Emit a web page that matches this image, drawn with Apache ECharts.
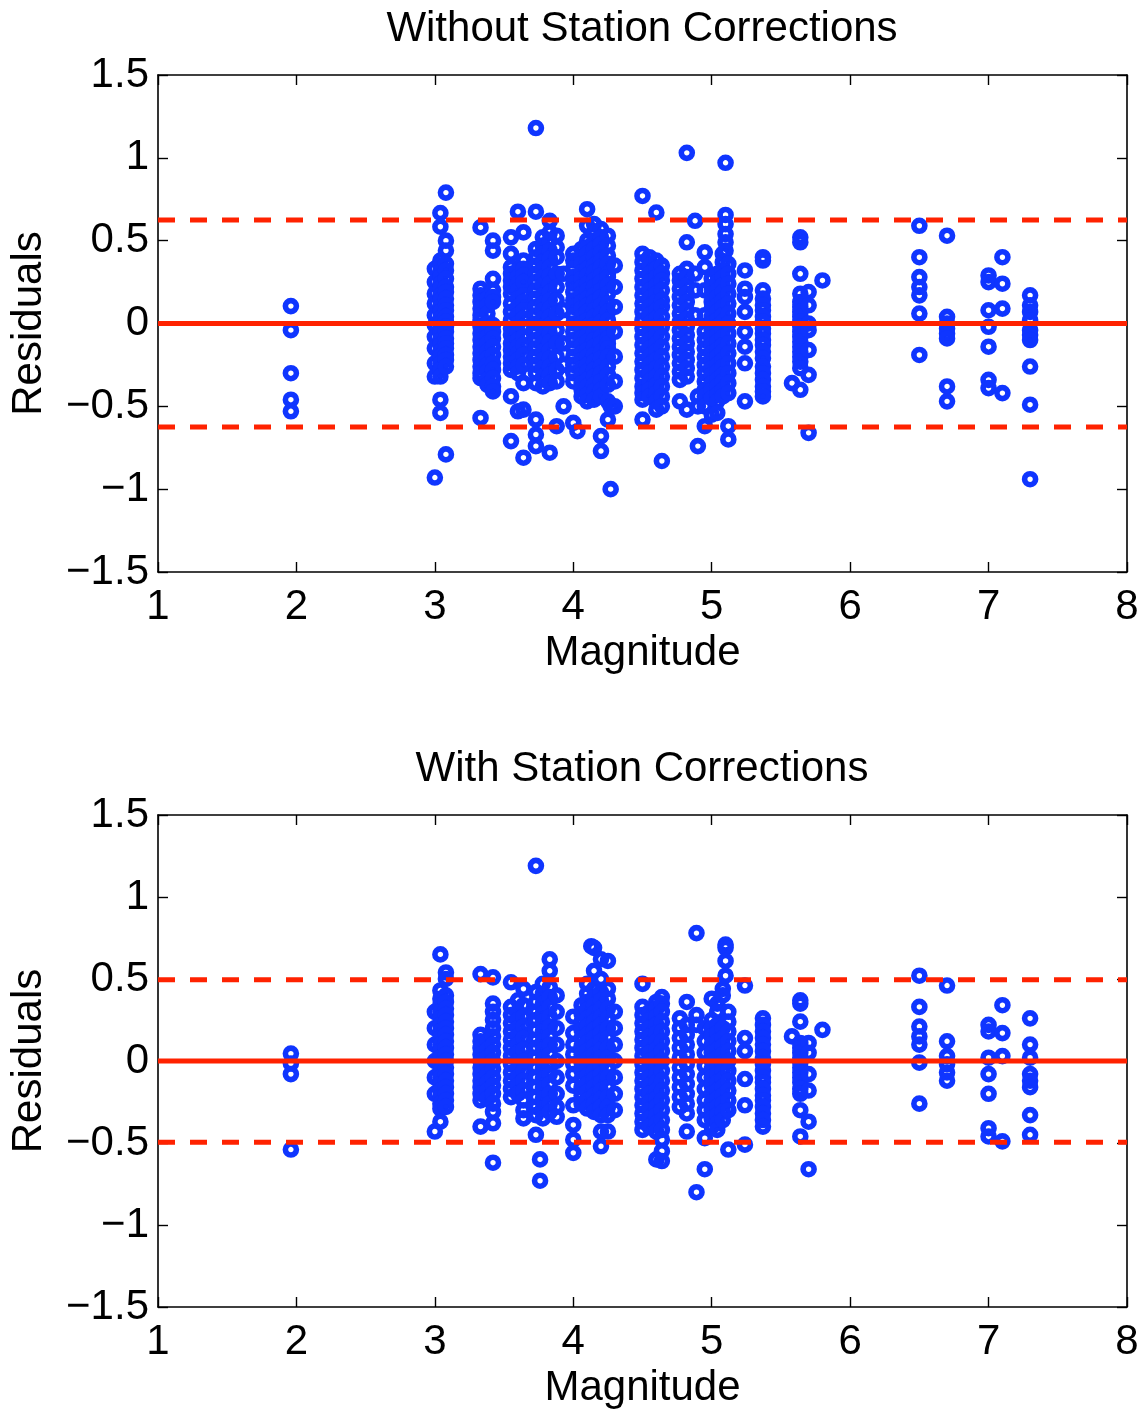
<!DOCTYPE html>
<html><head><meta charset="utf-8">
<script src="https://cdn.jsdelivr.net/npm/echarts@6/dist/echarts.min.js"></script>
<style>html,body{margin:0;padding:0;background:#fff}#c{width:1148px;height:1410px}</style>
</head><body><div id="c"></div>
<script>
// ---- Data (magnitude column, residuals) ----
const titles = ['Without Station Corrections', 'With Station Corrections'];
const xTicks = [1, 8, 1];      // min, max, interval
const yTicks = [-1.5, 1.5, 0.5];
const topBand = 0.624;   // dashed lines +/- (without corrections)
const botBand = 0.495;   // dashed lines +/- (with corrections)

const topCols = [
  [1.96, [0.105, -0.04, -0.30, -0.46, -0.53]],
  [3.0,  [0.33, 0.25, 0.18, 0.12, 0.05, -0.01, -0.08, -0.15, -0.24, -0.32, -0.93]],
  [3.04, [0.667, 0.584, 0.38, 0.35, 0.31, 0.28, 0.24, 0.21, 0.17, 0.14, 0.1, 0.07, 0.03, 0.0, -0.03, -0.06, -0.1, -0.13, -0.17, -0.2, -0.24, -0.28, -0.32, -0.46, -0.54]],
  [3.08, [0.79, 0.50, 0.44, 0.36, 0.32, 0.27, 0.22, 0.19, 0.15, 0.11, 0.08, 0.04, 0.01, -0.02, -0.05, -0.09, -0.12, -0.15, -0.19, -0.22, -0.26, -0.79]],
  [3.33, [0.58, 0.21, 0.17, 0.13, 0.09, 0.05, 0.02, -0.02, -0.06, -0.1, -0.14, -0.18, -0.22, -0.26, -0.3, -0.33, -0.57]],
  [3.38, [0.15, 0.11, 0.06, 0.0, -0.04, -0.08, -0.12, -0.17, -0.21, -0.25, -0.29, -0.34, -0.37]],
  [3.42, [0.5, 0.44, 0.27, 0.2, 0.16, 0.13, -0.01, -0.05, -0.09, -0.14, -0.19, -0.24, -0.28, -0.33, -0.38, -0.41]],
  [3.55, [0.52, 0.42, 0.34, 0.3, 0.26, 0.22, 0.18, 0.12, 0.07, 0.02, -0.03, -0.07, -0.12, -0.16, -0.2, -0.24, -0.28, -0.44, -0.71]],
  [3.6,  [0.675, 0.32, 0.28, 0.24, 0.2, 0.15, 0.1, 0.05, 0.0, -0.05, -0.1, -0.14, -0.18, -0.22, -0.26, -0.3, -0.53]],
  [3.64, [0.55, 0.38, 0.33, 0.29, 0.25, 0.17, 0.13, 0.08, 0.03, -0.02, -0.08, -0.13, -0.19, -0.25, -0.36, -0.52, -0.81]],
  [3.73, [1.18, 0.675, 0.45, 0.4, 0.35, 0.3, 0.25, 0.2, 0.15, 0.1, 0.05, 0.0, -0.05, -0.1, -0.15, -0.2, -0.25, -0.3, -0.36, -0.58, -0.67, -0.74]],
  [3.78, [0.52, 0.47, 0.42, 0.37, 0.33, 0.28, 0.23, 0.17, 0.12, 0.08, 0.03, -0.02, -0.07, -0.12, -0.17, -0.22, -0.27, -0.32, -0.38]],
  [3.83, [0.62, 0.55, 0.5, 0.44, 0.39, 0.34, 0.29, 0.24, 0.19, 0.14, 0.09, 0.04, -0.01, -0.06, -0.11, -0.16, -0.21, -0.26, -0.31, -0.36, -0.78]],
  [3.88, [0.53, 0.46, 0.4, 0.3, 0.22, 0.14, 0.06, -0.04, -0.12, -0.2, -0.28, -0.35, -0.62]],
  [3.93, [0.3, 0.08, -0.12, -0.25, -0.5]],
  [4.0,  [0.42, 0.38, 0.33, 0.28, 0.24, 0.19, 0.14, 0.1, 0.05, 0.0, -0.05, -0.1, -0.15, -0.2, -0.25, -0.3, -0.35, -0.6]],
  [4.03, [-0.65]],
  [4.06, [0.45, 0.4, 0.36, 0.31, 0.27, 0.22, 0.18, 0.13, 0.09, 0.04, 0.0, -0.04, -0.09, -0.13, -0.18, -0.22, -0.27, -0.31, -0.36, -0.4, -0.44]],
  [4.1,  [0.69, 0.59, 0.5, 0.46, 0.42, 0.37, 0.33, 0.29, 0.24, 0.2, 0.15, 0.11, 0.07, 0.02, -0.02, -0.07, -0.11, -0.16, -0.2, -0.25, -0.29, -0.34, -0.38, -0.43, -0.47]],
  [4.15, [0.6, 0.55, 0.5, 0.45, 0.4, 0.35, 0.31, 0.26, 0.22, 0.17, 0.13, 0.08, 0.04, -0.01, -0.05, -0.1, -0.14, -0.19, -0.23, -0.28, -0.32, -0.37, -0.41, -0.46]],
  [4.2,  [0.57, 0.52, 0.48, 0.43, 0.38, 0.34, 0.29, 0.25, 0.2, 0.16, 0.11, 0.06, 0.01, -0.03, -0.08, -0.12, -0.17, -0.21, -0.26, -0.3, -0.35, -0.4, -0.44, -0.68, -0.77]],
  [4.25, [0.53, 0.47, 0.41, 0.36, 0.3, 0.28, 0.23, 0.18, 0.12, 0.07, 0.02, -0.04, -0.09, -0.12, -0.15, -0.2, -0.26, -0.31, -0.37, -0.47, -0.58]],
  [4.27, [-1.0, -0.5]],
  [4.3,  [0.35, 0.22, 0.1, -0.05, -0.2, -0.35, -0.5]],
  [4.5,  [0.77, 0.42, 0.37, 0.32, 0.27, 0.22, 0.17, 0.12, 0.07, 0.02, -0.03, -0.08, -0.13, -0.18, -0.23, -0.28, -0.33, -0.38, -0.42, -0.46, -0.58]],
  [4.55, [0.4, 0.35, 0.3, 0.25, 0.2, 0.15, 0.1, 0.05, 0.0, -0.05, -0.1, -0.15, -0.2, -0.25, -0.3, -0.35, -0.4, -0.44]],
  [4.6,  [0.67, 0.38, 0.33, 0.28, 0.23, 0.18, 0.13, 0.08, 0.03, -0.02, -0.07, -0.12, -0.17, -0.22, -0.27, -0.32, -0.37, -0.42, -0.47, -0.52]],
  [4.64, [0.35, 0.3, 0.26, 0.2, 0.14, 0.1, 0.04, -0.02, -0.08, -0.14, -0.2, -0.26, -0.32, -0.38, -0.44, -0.5, -0.83]],
  [4.77, [0.3, 0.26, 0.21, 0.16, 0.11, 0.06, 0.01, -0.04, -0.09, -0.14, -0.19, -0.24, -0.29, -0.34, -0.47]],
  [4.82, [1.03, 0.49, 0.33, 0.28, 0.23, 0.18, 0.13, 0.08, 0.03, -0.02, -0.07, -0.12, -0.17, -0.22, -0.27, -0.32, -0.52]],
  [4.88, [0.62, 0.3, 0.2, 0.05]],
  [4.9,  [-0.44, -0.5, -0.74]],
  [4.95, [0.43, 0.34, 0.2, 0.05, -0.05, -0.1, -0.15, -0.2, -0.25, -0.3, -0.35, -0.4, -0.44, -0.5, -0.62]],
  [5.0,  [0.27, 0.22, 0.18, 0.13, 0.09, 0.04, 0.0, -0.04, -0.09, -0.13, -0.18, -0.22, -0.27, -0.31, -0.36, -0.4, -0.45, -0.55]],
  [5.04, [0.3, 0.25, 0.2, 0.16, 0.11, 0.07, 0.02, -0.02, -0.07, -0.11, -0.16, -0.2, -0.25, -0.29, -0.34, -0.38, -0.43, -0.47, -0.54]],
  [5.08, [0.42, 0.37, 0.32, 0.28, 0.23, 0.19, 0.14, 0.1, 0.05, 0.01, -0.04, -0.08, -0.13, -0.17, -0.22, -0.26, -0.31, -0.35, -0.4, -0.44]],
  [5.1,  [0.97, 0.655, 0.6, 0.54, 0.49, 0.44]],
  [5.12, [0.36, 0.3, 0.24, 0.18, 0.12, 0.06, 0.0, -0.06, -0.12, -0.18, -0.24, -0.3, -0.36, -0.42, -0.62, -0.7]],
  [5.24, [0.32, 0.21, 0.16, 0.07, -0.05, -0.14, -0.24, -0.47]],
  [5.37, [0.40, 0.38, 0.2, 0.15, 0.11, 0.08, 0.04, 0.01, -0.03, -0.06, -0.1, -0.13, -0.17, -0.21, -0.26, -0.3, -0.34, -0.38, -0.41, -0.44]],
  [5.58, [-0.36]],
  [5.64, [0.52, 0.49, 0.30, 0.18, 0.13, 0.1, 0.07, 0.04, 0.01, -0.02, -0.05, -0.08, -0.11, -0.14, -0.17, -0.2, -0.23, -0.27, -0.4]],
  [5.7,  [0.19, 0.11, 0.0, -0.04, -0.16, -0.31, -0.66]],
  [5.8,  [0.26]],
  [6.5,  [0.59, 0.40, 0.28, 0.22, 0.17, 0.06, -0.19]],
  [6.7,  [0.53, 0.04, 0.0, -0.03, -0.06, -0.09, -0.38, -0.47]],
  [7.0,  [0.29, 0.25, 0.08, -0.02, -0.14, -0.34, -0.39]],
  [7.1,  [0.40, 0.24, 0.09, -0.42]],
  [7.3,  [0.17, 0.11, 0.07, 0.02, -0.04, -0.07, -0.1, -0.26, -0.49, -0.94]]
];

const botCols = [
  [1.96, [0.045, -0.015, -0.08, -0.54]],
  [3.0,  [0.3, 0.2, 0.1, 0.0, -0.1, -0.2, -0.43]],
  [3.04, [0.65, 0.43, 0.38, 0.34, 0.3, 0.26, 0.22, 0.18, 0.14, 0.1, 0.06, 0.02, -0.02, -0.06, -0.1, -0.14, -0.18, -0.22, -0.26, -0.29, -0.37]],
  [3.08, [0.54, 0.5, 0.4, 0.36, 0.32, 0.28, 0.24, 0.2, 0.16, 0.12, 0.08, 0.04, 0.0, -0.04, -0.08, -0.12, -0.16, -0.2, -0.24, -0.28]],
  [3.33, [0.53, 0.16, 0.12, 0.08, 0.04, 0.0, -0.04, -0.08, -0.12, -0.16, -0.2, -0.24, -0.4]],
  [3.38, [0.12, 0.07, 0.02, -0.03, -0.08, -0.13, -0.18, -0.23]],
  [3.42, [0.51, 0.35, 0.3, 0.25, 0.2, 0.15, 0.1, 0.05, 0.0, -0.05, -0.1, -0.15, -0.2, -0.26, -0.31, -0.38, -0.62]],
  [3.55, [0.48, 0.33, 0.28, 0.23, 0.18, 0.13, 0.08, 0.03, -0.02, -0.07, -0.12, -0.17, -0.22]],
  [3.6,  [0.37, 0.3, 0.25, 0.2, 0.15, 0.1, 0.05, 0.0, -0.05, -0.1, -0.15, -0.2]],
  [3.64, [0.44, 0.34, 0.27, 0.21, 0.14, 0.07, 0.0, -0.06, -0.12, -0.18, -0.24, -0.3, -0.35]],
  [3.73, [1.19, 0.42, 0.36, 0.3, 0.25, 0.19, 0.13, 0.08, 0.02, -0.04, -0.1, -0.16, -0.22, -0.28, -0.33, -0.45]],
  [3.76, [-0.6, -0.73]],
  [3.78, [0.47, 0.41, 0.35, 0.29, 0.24, 0.18, 0.12, 0.07, 0.01, -0.05, -0.11, -0.17, -0.23, -0.29, -0.35]],
  [3.83, [0.62, 0.55, 0.45, 0.39, 0.33, 0.27, 0.21, 0.15, 0.1, 0.04, -0.02, -0.08, -0.14, -0.2, -0.26, -0.31]],
  [3.88, [0.4, 0.3, 0.2, 0.1, 0.0, -0.1, -0.2, -0.28, -0.34]],
  [4.0,  [0.27, 0.17, 0.1, 0.04, -0.02, -0.08, -0.15, -0.27, -0.39, -0.48, -0.56]],
  [4.06, [0.34, 0.29, 0.24, 0.19, 0.14, 0.09, 0.04, -0.01, -0.06, -0.11, -0.16, -0.21, -0.26]],
  [4.1,  [0.47, 0.41, 0.36, 0.31, 0.26, 0.21, 0.16, 0.11, 0.06, 0.01, -0.04, -0.09, -0.14, -0.19, -0.24, -0.29]],
  [4.13, [0.70]],
  [4.15, [0.69, 0.55, 0.44, 0.39, 0.34, 0.29, 0.24, 0.19, 0.14, 0.09, 0.04, -0.01, -0.06, -0.11, -0.16, -0.21, -0.26, -0.31]],
  [4.2,  [0.62, 0.5, 0.42, 0.37, 0.32, 0.27, 0.22, 0.17, 0.12, 0.07, 0.02, -0.03, -0.08, -0.13, -0.18, -0.23, -0.28, -0.33, -0.43, -0.52]],
  [4.25, [0.61, 0.44, 0.38, 0.32, 0.26, 0.2, 0.14, 0.08, 0.02, -0.04, -0.1, -0.16, -0.22, -0.28, -0.33, -0.43]],
  [4.3,  [0.3, 0.2, 0.1, 0.0, -0.1, -0.2, -0.3]],
  [4.5,  [0.47, 0.33, 0.28, 0.23, 0.18, 0.13, 0.08, 0.03, -0.02, -0.07, -0.12, -0.17, -0.22, -0.27, -0.32, -0.37, -0.42]],
  [4.55, [0.3, 0.25, 0.2, 0.15, 0.1, 0.05, 0.0, -0.05, -0.1, -0.15, -0.2, -0.25, -0.3, -0.35, -0.4]],
  [4.6,  [0.36, 0.32, 0.27, 0.22, 0.17, 0.12, 0.07, 0.02, -0.03, -0.08, -0.13, -0.18, -0.23, -0.28, -0.33, -0.38, -0.43, -0.6]],
  [4.64, [0.39, 0.35, 0.3, 0.24, 0.18, 0.12, 0.06, 0.0, -0.06, -0.12, -0.18, -0.24, -0.3, -0.36, -0.42, -0.48, -0.55, -0.61]],
  [4.77, [0.26, 0.2, 0.14, 0.08, 0.02, -0.04, -0.1, -0.16, -0.22, -0.28]],
  [4.82, [0.36, 0.22, 0.16, 0.1, 0.04, -0.02, -0.08, -0.14, -0.2, -0.26, -0.32, -0.43]],
  [4.89, [0.78, 0.28, 0.22, -0.8]],
  [4.95, [0.2, 0.12, 0.05, -0.03, -0.1, -0.17, -0.24, -0.3, -0.36, -0.47, -0.66]],
  [5.0,  [0.38, 0.25, 0.2, 0.15, 0.1, 0.05, 0.0, -0.05, -0.1, -0.15, -0.2, -0.25, -0.3, -0.35, -0.4]],
  [5.04, [0.35, 0.3, 0.22, 0.17, 0.12, 0.07, 0.02, -0.03, -0.08, -0.13, -0.18, -0.23, -0.28, -0.33, -0.38, -0.42]],
  [5.08, [0.44, 0.4, 0.2, 0.14, 0.09, 0.04, -0.01, -0.06, -0.11, -0.16, -0.21, -0.26, -0.31, -0.36]],
  [5.1,  [0.71, 0.69, 0.61, 0.52]],
  [5.12, [0.3, 0.24, 0.18, 0.12, 0.06, 0.0, -0.06, -0.12, -0.18, -0.24, -0.3, -0.54]],
  [5.24, [0.46, 0.14, 0.06, -0.11, -0.27, -0.51]],
  [5.37, [0.26, 0.22, 0.18, 0.14, 0.1, 0.06, 0.02, -0.02, -0.06, -0.1, -0.13, -0.17, -0.21, -0.24, -0.28, -0.32, -0.36, -0.4]],
  [5.58, [0.15]],
  [5.64, [0.37, 0.35, 0.24, 0.11, 0.08, 0.05, 0.02, -0.01, -0.04, -0.07, -0.1, -0.13, -0.17, -0.2, -0.3, -0.46]],
  [5.7,  [0.11, 0.05, -0.08, -0.18, -0.37, -0.66]],
  [5.8,  [0.19]],
  [6.5,  [0.52, 0.33, 0.21, 0.15, 0.1, -0.01, -0.26]],
  [6.7,  [0.46, 0.12, 0.03, -0.02, -0.07, -0.12]],
  [7.0,  [0.22, 0.18, 0.02, -0.08, -0.20, -0.41, -0.46]],
  [7.1,  [0.34, 0.17, 0.03, -0.49]],
  [7.3,  [0.26, 0.10, 0.02, -0.08, -0.12, -0.16, -0.33, -0.45]]
];

// ---- Build chart ----
const FONT = 'Liberation Sans';
const BLUE = '#0f35ff';
const RED = '#ff2200';
const flat = cols => cols.flatMap(([m, rs]) => rs.map(r => [m, r]));

const grids = [
  {left: 157, top: 75, width: 970, height: 497},
  {left: 157, top: 815, width: 970, height: 495}
];
const titleTops = [8, 748];

const axisLineStyle = {color: '#000', width: 1.6};
const tickStyle = {show: true, inside: true, length: 10, lineStyle: {color: '#000', width: 1.4}};
const labelStyle = {color: '#000', fontFamily: FONT, fontSize: 42};

const xAxes = [], yAxes = [], series = [], titleOpts = [];
[0, 1].forEach(g => {
  titleOpts.push({text: titles[g], left: 642, top: titleTops[g], textAlign: 'center', padding: 0,
    textStyle: {color: '#000', fontFamily: FONT, fontSize: 42, fontWeight: 'normal'}});
  xAxes.push({gridIndex: g, type: 'value', min: xTicks[0], max: xTicks[1], interval: xTicks[2], position: 'bottom',
    axisLine: {show: true, onZero: false, lineStyle: axisLineStyle}, axisTick: tickStyle, splitLine: {show: false},
    axisLabel: Object.assign({margin: 14, showMinLabel: true, showMaxLabel: true}, labelStyle),
    name: 'Magnitude', nameLocation: 'middle', nameGap: 60, nameTextStyle: labelStyle});
  xAxes.push({gridIndex: g, type: 'value', min: xTicks[0], max: xTicks[1], interval: xTicks[2], position: 'top',
    axisLine: {show: true, onZero: false, lineStyle: axisLineStyle}, axisTick: tickStyle, splitLine: {show: false},
    axisLabel: {show: false}});
  yAxes.push({gridIndex: g, type: 'value', min: yTicks[0], max: yTicks[1], interval: yTicks[2], position: 'left',
    axisLine: {show: true, onZero: false, lineStyle: axisLineStyle}, axisTick: tickStyle, splitLine: {show: false},
    axisLabel: Object.assign({margin: 9, formatter: v => (v < 0 ? '\u2212' + Math.abs(v) : String(v))}, labelStyle),
    name: 'Residuals', nameLocation: 'middle', nameGap: 108, nameRotate: 90, nameTextStyle: labelStyle});
  yAxes.push({gridIndex: g, type: 'value', min: yTicks[0], max: yTicks[1], interval: yTicks[2], position: 'right',
    axisLine: {show: true, onZero: false, lineStyle: axisLineStyle}, axisTick: tickStyle, splitLine: {show: false},
    axisLabel: {show: false}});

  const cols = g === 0 ? topCols : botCols;
  const band = g === 0 ? topBand : botBand;
  series.push({type: 'scatter', xAxisIndex: 2 * g, yAxisIndex: 2 * g, data: flat(cols),
    symbol: 'circle', symbolSize: 11, silent: true, z: 2,
    itemStyle: {color: 'rgba(0,0,0,0)', borderColor: BLUE, borderWidth: 5.6, opacity: 1}});
  series.push({type: 'line', xAxisIndex: 2 * g, yAxisIndex: 2 * g, data: [[xTicks[0], 0], [xTicks[1], 0]],
    symbol: 'none', silent: true, z: 5, lineStyle: {color: RED, width: 5}});
  [band, -band].forEach(b => series.push({type: 'line', xAxisIndex: 2 * g, yAxisIndex: 2 * g,
    data: [[xTicks[0], b], [xTicks[1], b]], symbol: 'none', silent: true, z: 5,
    lineStyle: {color: RED, width: 5, type: [17, 15], cap: 'butt'}}));
});

const chart = echarts.init(document.getElementById('c'), null, {renderer: 'canvas'});
chart.setOption({
  animation: false,
  backgroundColor: '#fff',
  title: titleOpts,
  grid: grids,
  xAxis: xAxes,
  yAxis: yAxes,
  series: series
});
</script></body></html>
